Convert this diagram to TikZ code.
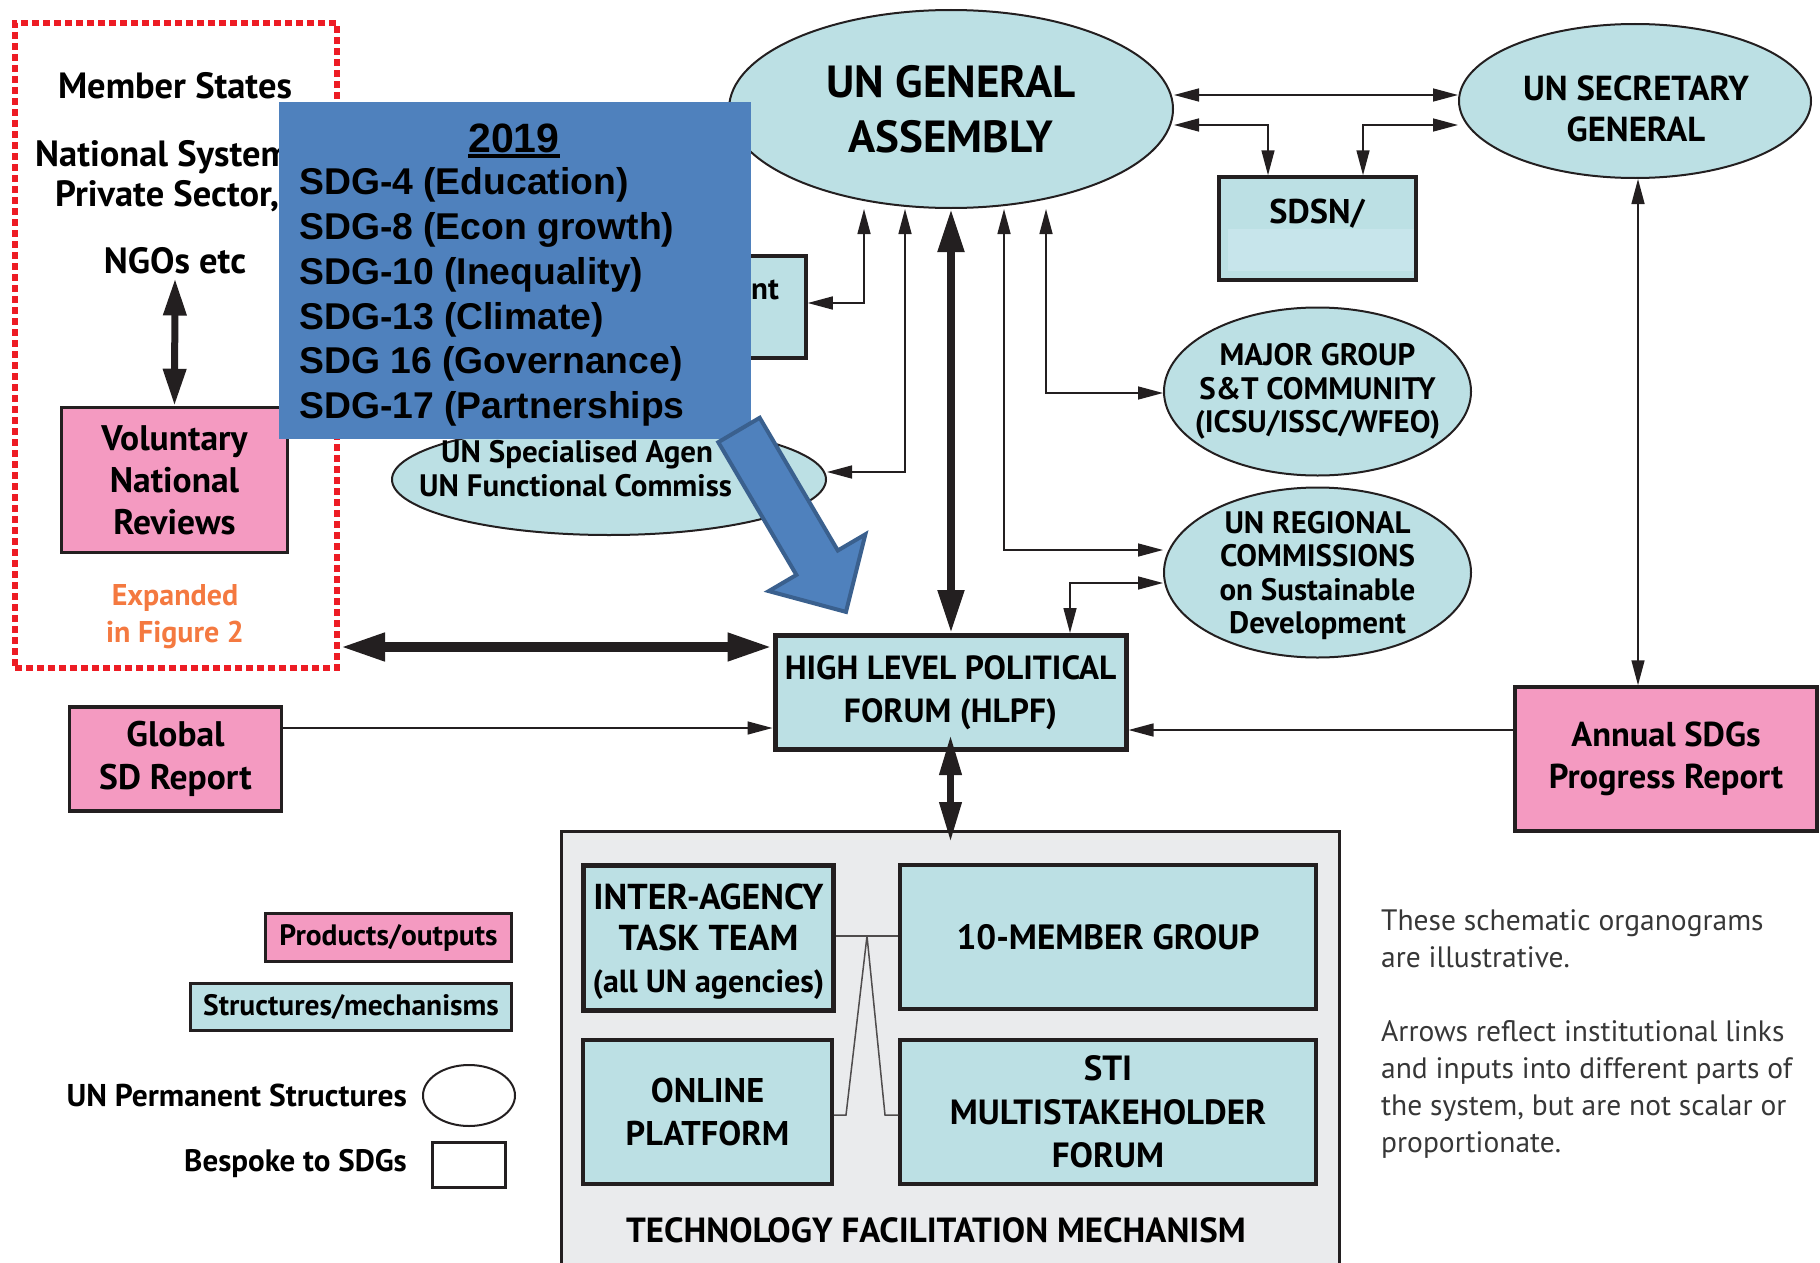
\documentclass[tikz,border=0pt]{standalone}
\usepackage{fontspec}
\setmainfont{PT Sans}
\newfontfamily\sdgfont{Liberation Sans}
\usetikzlibrary{shapes.geometric,arrows.meta}

\definecolor{uncyan}{RGB}{188,224,228}
\definecolor{unpink}{RGB}{244,154,193}
\definecolor{tfmgrey}{RGB}{234,235,237}
\definecolor{sdsnlight}{RGB}{199,229,235}
\definecolor{sdgblue}{RGB}{79,129,189}
\definecolor{sdgedge}{RGB}{58,96,142}
\definecolor{figorange}{RGB}{244,121,64}
\definecolor{dotred}{RGB}{237,28,36}
\definecolor{inkblack}{RGB}{35,31,32}
\definecolor{notegrey}{RGB}{55,55,55}

\tikzset{
  permanent/.style={ellipse, draw=inkblack, fill=uncyan, line width=2pt, inner sep=-20pt, align=center},
  bespoke/.style={rectangle, draw=inkblack, fill=uncyan, line width=3.5pt, inner sep=0pt, align=center},
  output/.style={rectangle, draw=inkblack, fill=unpink, line width=3.5pt, inner sep=0pt, align=center},
  words/.style={inner sep=0pt, align=center},
  link/.style={draw=inkblack, line width=1.5pt},
  joint/.style={draw=inkblack!80, line width=1.5pt},
  mainlink/.style={draw=inkblack, line width=8pt, {Triangle[length=43pt,width=25pt]}-{Triangle[length=43pt,width=25pt]}},
  reviewlink/.style={draw=inkblack, line width=10pt, {Triangle[length=45pt,width=26pt]}-{Triangle[length=45pt,width=26pt]}},
  ngolink/.style={draw=inkblack, line width=7pt, {Triangle[length=37pt,width=22pt]}-{Triangle[length=37pt,width=22pt]}},
  tfmlink/.style={draw=inkblack, line width=7pt, {Triangle[length=40pt,width=21pt]}-{Triangle[length=40pt,width=21pt]}},
  pointer/.style={draw=sdgedge, fill=sdgblue, line width=4pt, line join=miter}
}

\begin{document}
\begin{tikzpicture}[x=1pt, y=-1pt, >={Triangle[length=25pt,width=13pt]}]
\useasboundingbox (0,0) rectangle (1820,1263);
\clip (0,0) rectangle (1820,1263);

% national side
\node[draw=dotred, line width=6pt, dash pattern=on 7pt off 4pt, minimum width=322pt, minimum height=645pt] (redzone) at (176,345.5) {};
\node[words, font=\bfseries\fontsize{36.5}{40}\selectfont] (member) at (175,86) {Member States};
\node[words, font=\bfseries\fontsize{36.5}{40}\selectfont, anchor=west] (natsys) at (35,157) {National System};
\node[words, font=\bfseries\fontsize{36.5}{40}\selectfont, anchor=west] (private) at (55,196) {Private Sector,};
\node[words, font=\bfseries\fontsize{36.5}{40}\selectfont, inner sep=4pt] (ngos) at (175,261) {NGOs etc};
\node[output, minimum width=226pt, minimum height=145pt, font=\bfseries\fontsize{35.5}{42}\selectfont] (vnr) at (174.5,480) {Voluntary\\National\\Reviews};
\node[words, text=figorange, font=\bfseries\fontsize{30}{37}\selectfont] (expanded) at (175,617) {Expanded\\in Figure 2};
\draw[ngolink] (ngos.south) -- (vnr.north);

% UN bodies
\node[permanent, minimum width=444pt, minimum height=198pt, font=\bfseries\fontsize{45}{55}\selectfont] (ga) at (951,109) {UN GENERAL\\ASSEMBLY};
\node[permanent, minimum width=352pt, minimum height=154pt] (sg) at (1635,101) {};
\node[words, font=\bfseries\fontsize{34.7}{41}\selectfont] (sgtext) at (1636,108.5) {UN SECRETARY\\GENERAL};
\node[bespoke, minimum width=197pt, minimum height=103pt] (sdsn) at (1317.5,228.5) {};
\fill[sdsnlight] (1228,229) rectangle (1414,271);
\node[words, font=\bfseries\fontsize{34.3}{40}\selectfont] (sdsntext) at (1317,213.5) {SDSN/};
\node[permanent, minimum width=307pt, minimum height=168pt, font=\bfseries\fontsize{31}{33.5}\selectfont] (mg) at (1317.5,391.5) {MAJOR GROUP\\S\&T COMMUNITY\\(ICSU/ISSC/WFEO)};
\node[permanent, minimum width=307pt, minimum height=170pt, text depth=0pt, font=\bfseries\fontsize{31}{33.5}\selectfont] (unrc) at (1317.5,572.5) {UN REGIONAL\\COMMISSIONS\\on Sustainable\\Development};
\node[permanent, minimum width=434pt, minimum height=111pt] (unsa) at (609,479.5) {};
\node[words, font=\bfseries\fontsize{31}{33}\selectfont, anchor=west] (unsaone) at (441,455) {UN Specialised Agen};
\node[words, font=\bfseries\fontsize{31}{33}\selectfont, anchor=west] (unsatwo) at (419,486) {UN Functional Commiss};
\node[bespoke, minimum width=104pt, minimum height=102pt] (ntbox) at (754,307) {};
\node[words, font=\bfseries\fontsize{31}{33}\selectfont, anchor=west] (nttext) at (751,290) {nt};

% forum and reports
\node[bespoke, line width=5pt, minimum width=351pt, minimum height=114pt, font=\bfseries\fontsize{33.5}{43}\selectfont] (hlpf) at (950.5,692.5) {HIGH LEVEL POLITICAL\\FORUM (HLPF)};
\node[output, minimum width=212pt, minimum height=104pt, font=\bfseries\fontsize{35.5}{43}\selectfont] (global) at (175.5,759) {Global\\SD Report};
\node[output, minimum width=302pt, minimum height=144pt, font=\bfseries\fontsize{34.5}{42}\selectfont] (annual) at (1666,759) {Annual SDGs\\Progress Report};

% technology facilitation mechanism
\node[rectangle, draw=inkblack, fill=tfmgrey, line width=3pt, minimum width=778pt, minimum height=457pt] (tfm) at (950.5,1060) {};
\node[bespoke, line width=5.5pt, minimum width=250pt, minimum height=145pt, text depth=0pt, font=\bfseries\fontsize{36}{41.5}\selectfont] (iatt) at (708.5,938) {INTER-AGENCY\\TASK TEAM\\{\fontsize{32}{41.5}\selectfont(all UN agencies)}};
\node[bespoke, minimum width=416pt, minimum height=144pt, font=\bfseries\fontsize{35.1}{43}\selectfont] (tenmg) at (1108,937) {10-MEMBER GROUP};
\node[bespoke, minimum width=249pt, minimum height=144pt, font=\bfseries\fontsize{34.3}{43}\selectfont] (online) at (707.5,1112) {ONLINE\\PLATFORM};
\node[bespoke, minimum width=416pt, minimum height=144pt, font=\bfseries\fontsize{35}{43.5}\selectfont] (sti) at (1108,1112) {STI\\MULTISTAKEHOLDER\\FORUM};
\node[words, font=\bfseries\fontsize{34.9}{40}\selectfont] (tfmtext) at (936,1230) {TECHNOLOGY FACILITATION MECHANISM};
\coordinate (fork) at (867,936);
\draw[joint] (iatt.east |- fork) -- (tenmg.west |- fork);
\draw[joint] (fork) -- (846,1115) -- (online.east |- 0,1115);
\draw[joint] (fork) -- (885,1115) -- (sti.west |- 0,1115);

% connectors
\draw[link, <->] (ga.east |- 0,95) -- (sg.west |- 0,95);
\draw[link, <->] (ga.east |- 0,125) -| (sdsn.north -| 1268,0);
\draw[link, <->] (sg.west |- 0,125) -| (sdsn.north -| 1363,0);
\draw[link, <->] (sg.south -| 1638,0) -- (annual.north -| 1638,0);
\draw[link, <->] (ga.south -| 864,0) |- (ntbox.east |- 0,303);
\draw[link, <->] (ga.south -| 905,0) |- (unsa.east |- 0,472);
\draw[link, <->] (ga.south -| 1004,0) |- (unrc.west |- 0,550);
\draw[link, <->] (ga.south -| 1046,0) |- (mg.west |- 0,393);
\draw[link, <->] (hlpf.north -| 1070,0) |- (unrc.west |- 0,583);
\draw[link, ->] (global.east |- 0,728) -- (hlpf.west |- 0,728);
\draw[link, ->] (annual.west |- 0,730) -- (hlpf.east |- 0,730);
\draw[mainlink] (ga.south) -- (ga.south |- hlpf.north);
\draw[reviewlink] (redzone.east |- 0,647) -- (hlpf.west |- 0,647);
\draw[tfmlink] ([yshift=17pt]hlpf.south) -- ([yshift=-12pt]tfm.north);

% 2019 overlay
\node[fill=sdgblue, minimum width=472pt, minimum height=337pt, inner sep=0pt] (sdgbox) at (515,270.5) {};
\node[words, font=\sdgfont\bfseries\fontsize{41}{50}\selectfont, anchor=base] (year) at (514,152) {2019};
\draw[line width=3.5pt] ([yshift=-4pt]year.base west) -- ([yshift=-4pt]year.base east);
\node[words, align=left, anchor=west, font=\sdgfont\bfseries\fontsize{37.3}{44.8}\selectfont] (sdglist) at (299,297) {SDG-4 (Education)\\SDG-8 (Econ growth)\\SDG-10 (Inequality)\\SDG-13 (Climate)\\SDG 16 (Governance)\\SDG-17 (Partnerships};
\draw[pointer] (759.7,417.8) -- (837.8,550.5) -- (865.4,534.3) -- (846.0,611.9) -- (768.8,591.1) -- (796.4,574.9) -- (718.3,442.2) -- cycle;

% key
\node[output, line width=3pt, minimum width=246pt, minimum height=48pt, font=\bfseries\fontsize{29.5}{36}\selectfont] (prodkey) at (388.5,937.5) {Products/outputs};
\node[bespoke, line width=3pt, minimum width=321pt, minimum height=47pt, font=\bfseries\fontsize{29.5}{36}\selectfont] (structkey) at (351,1007) {Structures/mechanisms};
\node[ellipse, draw=inkblack, line width=2pt, minimum width=92pt, minimum height=61pt] (permkey) at (469,1095.5) {};
\node[words, anchor=east, font=\bfseries\fontsize{31.5}{36}\selectfont] (permtext) at (407,1095) {UN Permanent Structures};
\node[rectangle, draw=inkblack, line width=3pt, minimum width=73pt, minimum height=45pt] (bespokekey) at (469,1165) {};
\node[words, anchor=east, font=\bfseries\fontsize{31}{36}\selectfont] (bespoketext) at (407,1164) {Bespoke to SDGs};

% note
\node[words, align=left, anchor=west, text=notegrey, font=\fontsize{29.5}{37}\selectfont] (note) at (1381,1034) {These schematic organograms\\are illustrative.\\[37pt]Arrows reflect institutional links\\and inputs into different parts of\\the system, but are not scalar or\\proportionate.};
\end{tikzpicture}
\end{document}
